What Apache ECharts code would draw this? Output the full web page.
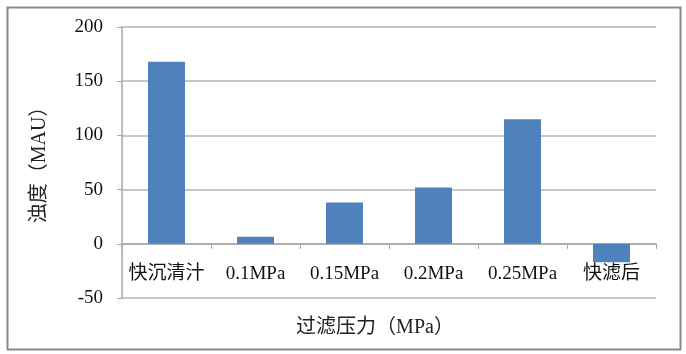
<!DOCTYPE html>
<html>
<head>
<meta charset="utf-8">
<script src="https://cdn.jsdelivr.net/npm/echarts@6/dist/echarts.min.js"></script>
<style>
  html, body { margin: 0; padding: 0; background: #fff; }
  #chart { width: 686px; height: 354px; }
</style>
</head>
<body>
<div id="chart"></div>
<script>
// 数据
const categories = ["快沉清汁", "0.1MPa", "0.15MPa", "0.2MPa", "0.25MPa", "快滤后"];
const turbidity = [168, 6.5, 38, 52, 115, -17];
const yTicks = { min: -50, max: 200, interval: 50 };

const myChart = echarts.init(document.getElementById("chart"));

const serif = "'Liberation Serif', 'Noto Sans CJK SC', serif";

let option = {
  animation: false,
  grid: {
    left: 122,
    right: 30,
    top: 27,
    bottom: 56
  },
  xAxis: {
    type: "category",
    data: categories,
    axisLine: {
      onZero: true,
      lineStyle: { color: "#a6a6a6", width: 1.5 }
    },
    axisTick: {
      show: true,
      length: 5,
      lineStyle: { color: "#a6a6a6" }
    },
    axisLabel: {
      interval: 0,
      hideOverlap: false,
      margin: -33, // 标签贴在0线下方
      fontSize: 19,
      color: "#111",
      fontFamily: serif
    }
  },
  yAxis: {
    type: "value",
    min: yTicks.min,
    max: yTicks.max,
    interval: yTicks.interval,
    axisLine: {
      show: true,
      lineStyle: { color: "#a6a6a6", width: 1.5 }
    },
    axisTick: {
      show: true,
      length: 5,
      lineStyle: { color: "#a6a6a6" }
    },
    axisLabel: {
      margin: 19,
      fontSize: 19,
      color: "#111",
      fontFamily: serif
    },
    splitLine: {
      lineStyle: { color: "#b3b3b3", width: 1.5 }
    }
  },
  series: [
    {
      type: "bar",
      data: turbidity,
      barWidth: 37,
      itemStyle: { color: "#4f81bd" }
    }
  ],
  graphic: [
    {
      type: "rect",
      left: 5,
      top: 5,
      shape: { width: 673, height: 342 },
      style: { fill: null, stroke: "#8a8a8a", lineWidth: 2 }
    },
    {
      type: "text",
      x: 40,
      y: 160,
      rotation: Math.PI / 2,
      style: {
        text: "浊度（MAU）",
        fontSize: 20,
        fill: "#222",
        fontFamily: serif,
        align: "center",
        verticalAlign: "middle"
      }
    },
    {
      type: "text",
      x: 375,
      y: 328,
      style: {
        text: "过滤压力（MPa）",
        fontSize: 20,
        fill: "#222",
        fontFamily: serif,
        align: "center",
        verticalAlign: "middle"
      }
    }
  ]
};

myChart.setOption(option);
window.addEventListener("resize", function () {
  myChart.resize();
});
</script>
</body>
</html>
